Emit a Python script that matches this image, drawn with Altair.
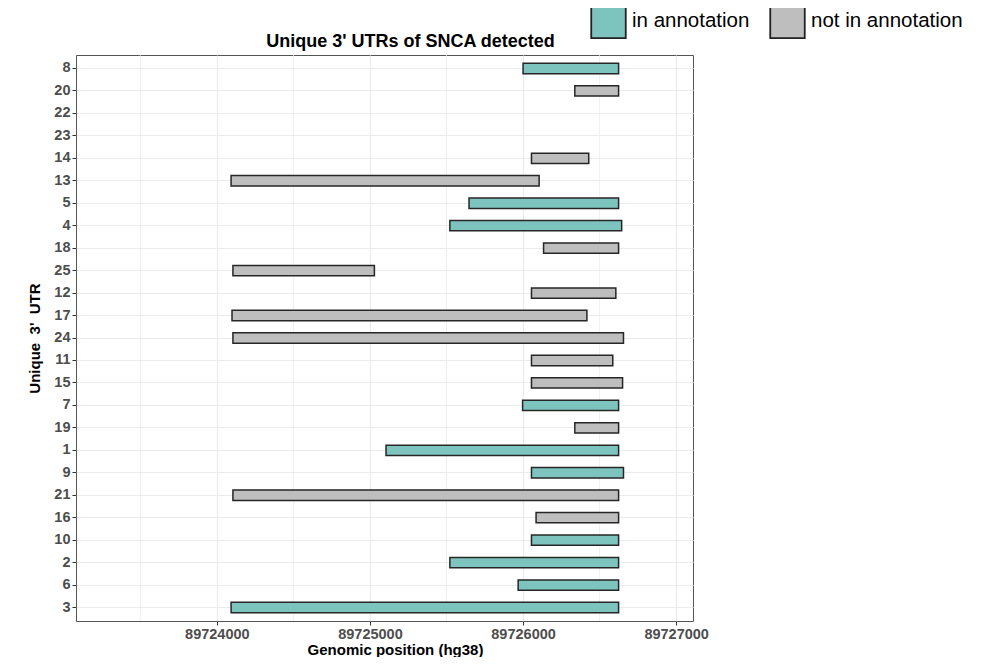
import altair as alt
import pandas as pd

# Row order (top to bottom)
row_order = ["8", "20", "22", "23", "14", "13", "5", "4", "18", "25", "12", "17",
             "24", "11", "15", "7", "19", "1", "9", "21", "16", "10", "2", "6", "3"]

# Bars (rows 22 and 23 have no visible bar)
utr_ids = ["8", "20", "14", "13", "5", "4", "18", "25", "12", "17", "24", "11",
           "15", "7", "19", "1", "9", "21", "16", "10", "2", "6", "3"]
starts = [89726000, 89726338, 89726055, 89724093, 89725647, 89725522, 89726134,
          89724105, 89726055, 89724099, 89724105, 89726055, 89726055, 89725997,
          89726338, 89725105, 89726055, 89724105, 89726085, 89726055, 89725522,
          89725968, 89724093]
ends = [89726624, 89726624, 89726429, 89726105, 89726624, 89726644, 89726624,
        89725029, 89726606, 89726417, 89726656, 89726586, 89726650, 89726624,
        89726624, 89726624, 89726656, 89726624, 89726624, 89726624, 89726624,
        89726624, 89726624]
status = ["in annotation", "not in annotation", "not in annotation", "not in annotation",
          "in annotation", "in annotation", "not in annotation", "not in annotation",
          "not in annotation", "not in annotation", "not in annotation", "not in annotation",
          "not in annotation", "in annotation", "not in annotation", "in annotation",
          "in annotation", "not in annotation", "not in annotation", "in annotation",
          "in annotation", "in annotation", "in annotation"]

x_ticks = [89724000, 89725000, 89726000, 89727000]
x_minor = [89723500, 89724500, 89725500, 89726500]
x_domain = [89723080, 89727110]

legend_labels = ["in annotation", "not in annotation"]
legend_colors = ["#7EC4BE", "#BEBEBE"]

FONT = "Liberation Sans"

df = pd.DataFrame({"utr": utr_ids, "start": starts, "end": ends, "status": status})
minor_df = pd.DataFrame({"x": x_minor})

x_scale = alt.Scale(domain=x_domain, nice=False, zero=False)
x_axis = alt.Axis(values=x_ticks, format="d", title="Genomic position (hg38)",
                  titleFont=FONT, titleFontSize=15, titleFontWeight="bold",
                  titleColor="black", titleX=319, titleY=33,
                  titleBaseline="alphabetic",
                  labelFont=FONT, labelFontSize=14.5, labelFontWeight="bold",
                  labelColor="#4D4D4D", labelPadding=2,
                  tickSize=4, tickColor="#333333", domain=False,
                  grid=True, gridColor="#EBEBEB", gridWidth=1.2)

minor = alt.Chart(minor_df).mark_rule(color="#EBEBEB", strokeWidth=0.8).encode(
    x=alt.X("x:Q", scale=x_scale, axis=x_axis)
)

bars = alt.Chart(df).mark_bar(
    height={"band": 0.46}, stroke="#262626", strokeWidth=1.5, opacity=1
).encode(
    x=alt.X("start:Q", scale=x_scale, axis=x_axis),
    x2="end:Q",
    y=alt.Y("utr:N", sort=row_order,
            scale=alt.Scale(domain=row_order, paddingInner=0, paddingOuter=0.1),
            axis=alt.Axis(title="Unique\u00a0 3'\u00a0 UTR", titleFont=FONT,
                          titleFontSize=15, titleFontWeight="bold", titleColor="black",
                          titleAngle=-90, titleX=-37, titleY=283,
                          titleBaseline="alphabetic", titleAlign="center",
                          labelFont=FONT, labelFontSize=14.5, labelFontWeight="bold",
                          labelColor="#4D4D4D", labelPadding=2,
                          tickSize=4, tickColor="#333333", domain=False,
                          grid=True, gridColor="#EBEBEB", gridWidth=1.2,
                          bandPosition=0.5)),
    fill=alt.Fill("status:N",
                  scale=alt.Scale(domain=legend_labels, range=legend_colors),
                  legend=alt.Legend(title=None, orient="none", legendX=514, legendY=-53,
                                    direction="horizontal", symbolType="square",
                                    symbolSize=1190, symbolStrokeColor="#222222",
                                    symbolStrokeWidth=1.8, symbolOpacity=1,
                                    labelFont=FONT, labelFontSize=20.5,
                                    labelColor="black", labelOffset=5,
                                    columnPadding=16)),
)

chart = alt.layer(minor, bars).properties(
    width=617,
    height=566,
    title=alt.TitleParams(text="Unique 3' UTRs of SNCA detected", font=FONT,
                          fontSize=18, fontWeight="bold", color="black",
                          anchor="middle", frame="group", baseline="alphabetic",
                          dx=26, dy=70, offset=7),
    autosize=alt.AutoSizeParams(type="none"),
    padding={"left": 68, "top": 47, "right": 280, "bottom": 36},
).configure_view(stroke="#555555", strokeWidth=1)

chart.save("out.html", embed_options={"renderer": "svg", "actions": False})
